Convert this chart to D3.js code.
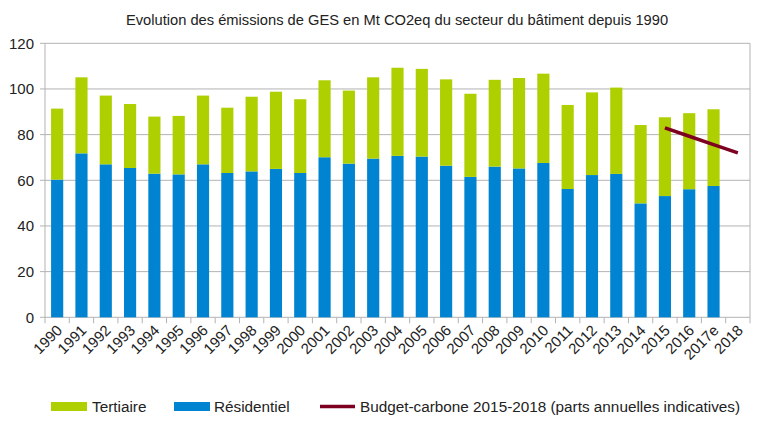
<!DOCTYPE html>
<html><head><meta charset="utf-8">
<script src="https://cdn.jsdelivr.net/npm/d3@7"></script>
<style>
html,body{margin:0;padding:0;background:#fff;}
svg{font-family:"Liberation Sans",Arial,sans-serif;}
</style></head>
<body><svg id="c" width="768" height="435"></svg>
<script>
const years = ["1990","1991","1992","1993","1994","1995","1996","1997","1998","1999","2000","2001","2002","2003","2004","2005","2006","2007","2008","2009","2010","2011","2012","2013","2014","2015","2016","2017e","2018"];
const residentiel = [60.3,71.8,67.0,65.4,62.9,62.6,67.0,63.2,63.9,65.0,63.2,70.1,67.3,69.5,70.7,70.4,66.4,61.5,66.0,65.2,67.6,56.2,62.3,62.8,49.9,53.1,56.1,57.5,null];
const tertiaire = [31.1,33.3,30.1,28.0,25.0,25.6,30.1,28.6,32.7,33.8,32.3,33.7,32.0,35.6,38.6,38.4,37.8,36.4,38.0,39.6,39.1,36.8,36.2,37.8,34.3,34.5,33.3,33.6,null];
const budgetYears = ["2015","2016","2017e","2018"];
const budget = [83,79.3,75.6,72];
const yTicks = [0,20,40,60,80,100,120];

const svg = d3.select("#c");
const L=45, R=750, T=43.3, B=317.3;
const x = d3.scaleBand().domain(years).range([L,R]).paddingInner(0.5).paddingOuter(0.25);
const y = d3.scaleLinear().domain([0,120]).range([B,T]);
const grid="#b3b3b3";
const FS=15;

// gridlines
svg.append("g").selectAll("line").data(yTicks).join("line")
  .attr("x1",L-5).attr("x2",R).attr("y1",d=>y(d)).attr("y2",d=>y(d))
  .attr("stroke",grid).attr("stroke-width",1);
// left & right borders
svg.append("line").attr("x1",L).attr("x2",L).attr("y1",T).attr("y2",B).attr("stroke",grid);
svg.append("line").attr("x1",R).attr("x2",R).attr("y1",T).attr("y2",B).attr("stroke",grid);

// y labels
svg.append("g").selectAll("text").data(yTicks).join("text")
  .attr("x",L-11).attr("y",d=>y(d)).attr("dy","0.35em").attr("text-anchor","end")
  .attr("font-size",FS).attr("fill","#222").text(d=>d);

// x tick marks at band boundaries
const bounds = d3.range(years.length+1).map(i=>L+i*(R-L)/years.length);
svg.append("g").selectAll("line").data(bounds).join("line")
  .attr("x1",d=>d).attr("x2",d=>d).attr("y1",B).attr("y2",B+6).attr("stroke",grid);

// bars
const data = years.map((yr,i)=>({yr,r:residentiel[i],t:tertiaire[i]})).filter(d=>d.r!=null);
svg.append("g").selectAll("rect").data(data).join("rect")
  .attr("x",d=>x(d.yr)).attr("width",x.bandwidth())
  .attr("y",d=>y(d.r)).attr("height",d=>y(0)-y(d.r)).attr("fill","#0084d1");
svg.append("g").selectAll("rect").data(data).join("rect")
  .attr("x",d=>x(d.yr)).attr("width",x.bandwidth())
  .attr("y",d=>y(d.r+d.t)).attr("height",d=>y(d.r)-y(d.r+d.t)).attr("fill","#aecf00");

// budget line
const line = d3.line().x((d,i)=>x(budgetYears[i])+x.bandwidth()/2).y(d=>y(d));
svg.append("path").datum(budget).attr("d",line).attr("fill","none")
  .attr("stroke","#7e0021").attr("stroke-width",3.5);

// x labels
svg.append("g").selectAll("text").data(years).join("text")
  .attr("transform",d=>`translate(${x(d)+x.bandwidth()/2+6},${B+14}) rotate(-45)`)
  .attr("text-anchor","end").attr("font-size",FS).attr("fill","#222").text(d=>d);

// title
svg.append("text").attr("x",397).attr("y",25).attr("text-anchor","middle")
  .attr("font-size",14.7).attr("fill","#222")
  .text("Evolution des émissions de GES en Mt CO2eq du secteur du bâtiment depuis 1990");

// legend
const LF=15.3;
const lg = svg.append("g");
lg.append("rect").attr("x",51).attr("y",402).attr("width",36).attr("height",9).attr("fill","#aecf00");
lg.append("text").attr("x",92).attr("y",412).attr("font-size",LF).attr("fill","#222").text("Tertiaire");
lg.append("rect").attr("x",174).attr("y",402).attr("width",36).attr("height",9).attr("fill","#0084d1");
lg.append("text").attr("x",214).attr("y",412).attr("font-size",LF).attr("fill","#222").text("Résidentiel");
lg.append("line").attr("x1",320).attr("x2",355).attr("y1",406.5).attr("y2",406.5).attr("stroke","#7e0021").attr("stroke-width",3.5);
lg.append("text").attr("x",360).attr("y",412).attr("font-size",LF).attr("fill","#222").text("Budget-carbone 2015-2018 (parts annuelles indicatives)");
</script></body></html>
